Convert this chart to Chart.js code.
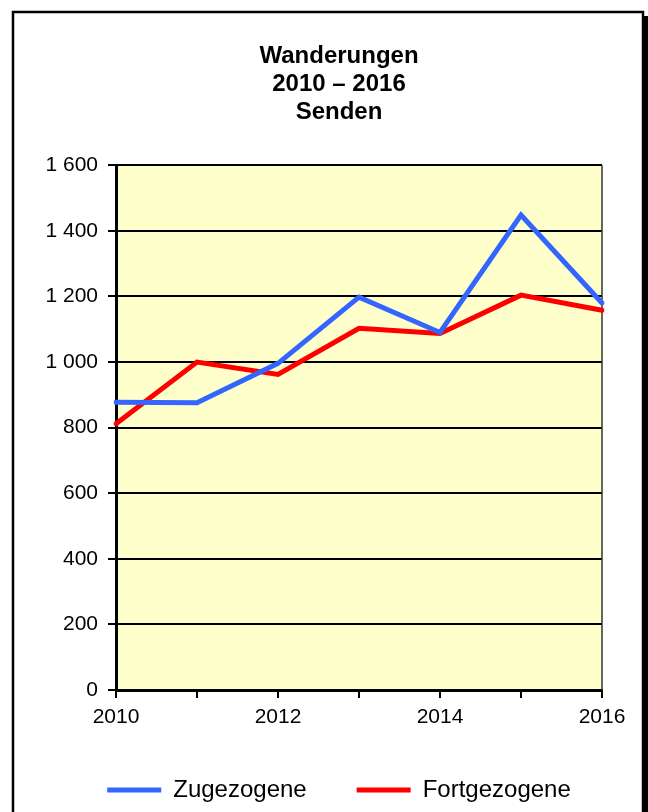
<!DOCTYPE html>
<html>
<head>
<meta charset="utf-8">
<script src="https://cdn.jsdelivr.net/npm/chart.js@4.4.1/dist/chart.umd.min.js"></script>
<style>
  html, body { margin: 0; padding: 0; background: #fff; }
  #wrap { width: 648px; height: 812px; }
</style>
</head>
<body>
<div id="wrap"><canvas id="chartWanderungen" width="648" height="812"></canvas></div>
<script>
// Data
const years = ['2010', '2011', '2012', '2013', '2014', '2015', '2016'];
const zugezogene = [877, 876, 996, 1198, 1090, 1448, 1180];
const fortgezogene = [812, 1000, 962, 1103, 1087, 1204, 1158];
const titleLines = ['Wanderungen', '2010 – 2016', 'Senden'];

Chart.defaults.font.family = "'Liberation Sans', Arial, sans-serif";
Chart.defaults.color = '#000';

// thousands with a space: 1 600
function formatTick(v) {
  return String(v).replace(/\B(?=(\d{3})+(?!\d))/g, ' ');
}

// outer frame with drop shadow + yellow plot area
const framePlugin = {
  id: 'frame',
  beforeDraw(chart) {
    const { ctx, width, height, chartArea } = chart;
    ctx.save();
    ctx.fillStyle = '#fff';
    ctx.fillRect(0, 0, width, height);
    ctx.fillStyle = '#000';
    ctx.fillRect(17, 16, 640, height);
    ctx.fillStyle = '#fff';
    ctx.fillRect(13, 12, 630, height);
    ctx.strokeStyle = '#000';
    ctx.lineWidth = 2.5;
    ctx.strokeRect(13, 12, 630, height + 10);

    ctx.fillStyle = '#FFFFCC';
    ctx.fillRect(chartArea.left, chartArea.top, chartArea.width, chartArea.height);
    ctx.restore();
  },
  beforeDatasetsDraw(chart) {
    const { ctx, chartArea } = chart;
    ctx.save();
    ctx.strokeStyle = '#333';
    ctx.lineWidth = 1.5;
    ctx.beginPath();
    ctx.moveTo(chartArea.right, chartArea.top);
    ctx.lineTo(chartArea.right, chartArea.bottom);
    ctx.stroke();
    ctx.restore();
  }
};

new Chart(document.getElementById('chartWanderungen'), {
  type: 'line',
  data: {
    labels: years,
    datasets: [
      {
        label: 'Zugezogene',
        data: zugezogene,
        borderColor: '#3366FF',
        backgroundColor: '#3366FF',
        borderWidth: 5,
        borderCapStyle: 'round',
        pointRadius: 0,
        tension: 0
      },
      {
        label: 'Fortgezogene',
        data: fortgezogene,
        borderColor: '#FF0000',
        backgroundColor: '#FF0000',
        borderWidth: 5,
        borderCapStyle: 'round',
        pointRadius: 0,
        tension: 0
      }
    ]
  },
  options: {
    responsive: false,
    animation: false,
    layout: { padding: { left: 40, right: 10, top: 42, bottom: 0 } },
    plugins: {
      title: {
        display: true,
        text: titleLines,
        font: { size: 24, weight: 'bold', lineHeight: 1.17 },
        color: '#000',
        padding: { top: 0, bottom: 39 }
      },
      legend: {
        position: 'bottom',
        labels: {
          usePointStyle: true,
          pointStyle: 'line',
          pointStyleWidth: 54,
          padding: 50,
          font: { size: 24 },
          color: '#000'
        }
      },
      tooltip: { enabled: false }
    },
    scales: {
      x: {
        offset: false,
        afterFit(s) { s.height = 38; },
        grid: {
          drawOnChartArea: false,
          drawTicks: true,
          tickLength: 8,
          color: '#000',
          lineWidth: 2
        },
        border: { color: '#000', width: 3 },
        ticks: {
          autoSkip: false,
          maxRotation: 0,
          padding: 7,
          font: { size: 21 },
          color: '#000',
          callback(value, index) {
            const y = Number(years[index]);
            return y % 2 === 0 ? years[index] : '';
          }
        }
      },
      y: {
        min: 0,
        max: 1600,
        afterFit(s) { s.width = 76; },
        grid: {
          color: '#000',
          lineWidth: 2,
          tickLength: 8
        },
        border: { color: '#000', width: 3 },
        ticks: {
          stepSize: 200,
          padding: 10,
          font: { size: 21 },
          color: '#000',
          callback: formatTick
        }
      },
      // empty spacer on the right so the plot ends where the reference does
      spacer: {
        type: 'linear',
        position: 'right',
        display: true,
        afterFit(s) { s.width = 36; },
        grid: { display: false },
        border: { display: false },
        ticks: { display: false }
      }
    }
  },
  plugins: [framePlugin]
});
</script>
</body>
</html>
